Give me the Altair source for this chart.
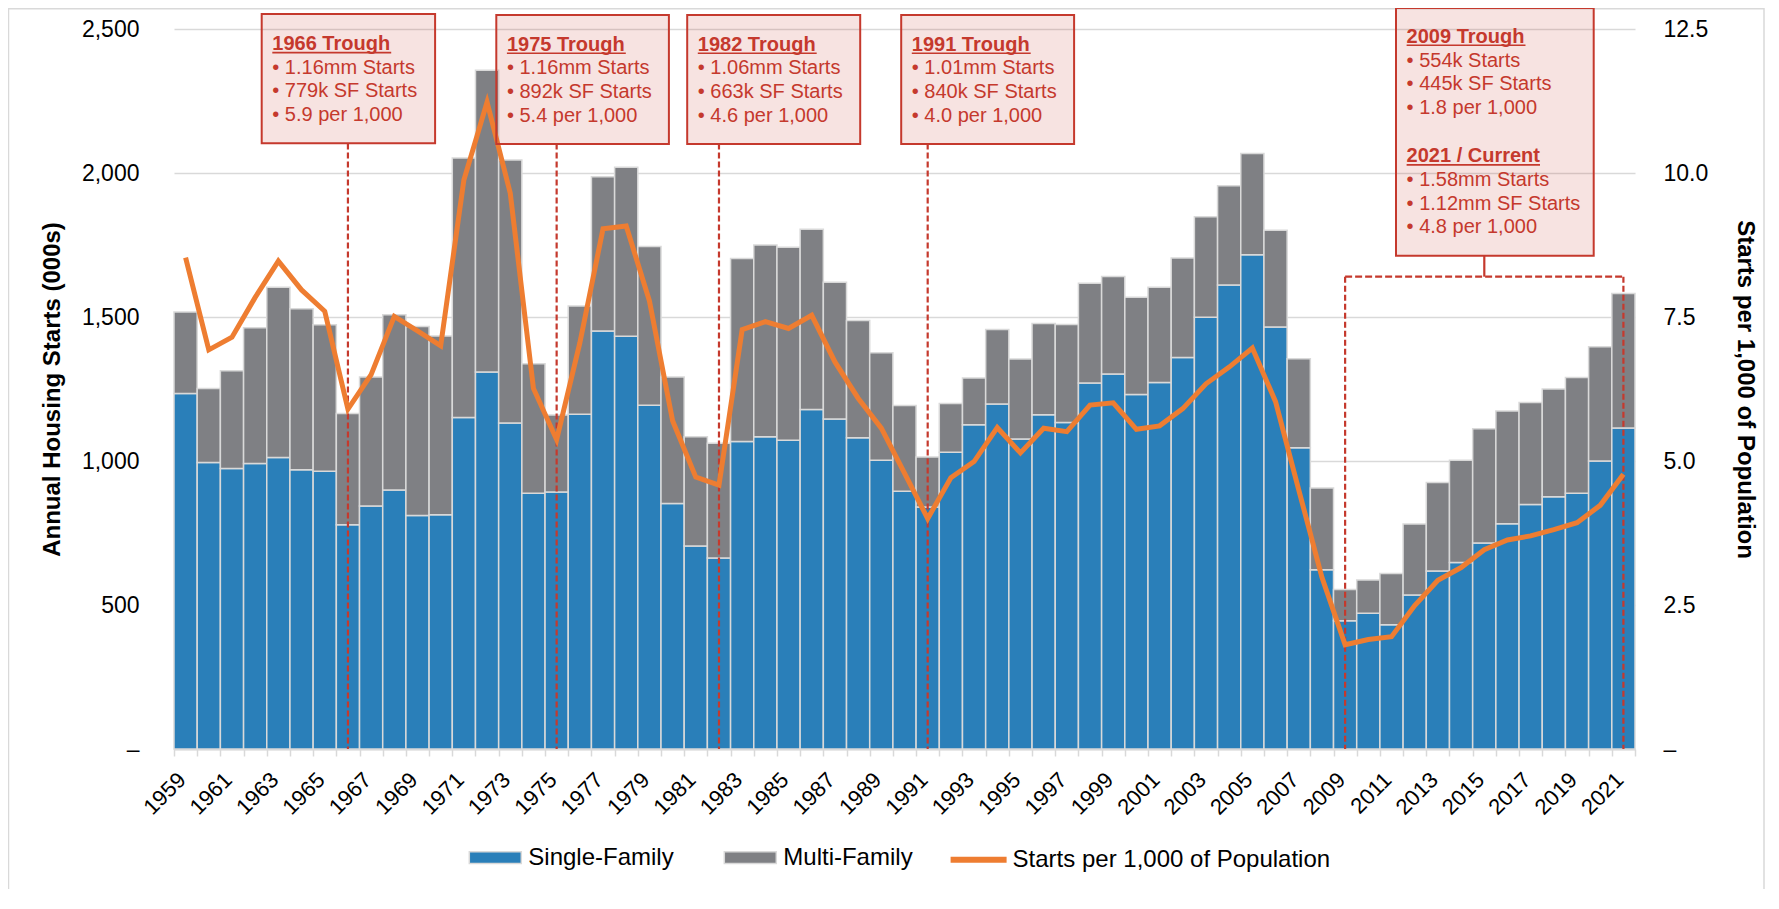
import altair as alt
import pandas as pd

# ---------------- data ----------------
years = list(range(1959, 2022))
total_starts = [1517, 1252, 1313, 1463, 1603, 1529, 1473, 1165, 1292, 1508,
                1467, 1434, 2052, 2357, 2045, 1338, 1160, 1538, 1987, 2020,
                1745, 1292, 1084, 1062, 1703, 1750, 1742, 1805, 1621, 1488,
                1376, 1193, 1014, 1200, 1288, 1457, 1354, 1477, 1474, 1617,
                1641, 1569, 1603, 1705, 1848, 1956, 2068, 1801, 1355, 906,
                554, 587, 609, 781, 925, 1003, 1112, 1174, 1203, 1250,
                1290, 1397, 1582]
sf_starts = [1234, 995, 974, 991, 1012, 970, 964, 779, 844, 899,
             811, 813, 1151, 1309, 1132, 888, 892, 1162, 1451, 1433,
             1194, 852, 705, 663, 1068, 1084, 1072, 1179, 1146, 1081,
             1003, 895, 840, 1030, 1126, 1198, 1076, 1161, 1134, 1271,
             1302, 1231, 1273, 1359, 1499, 1611, 1716, 1465, 1046, 622,
             445, 471, 431, 535, 618, 648, 715, 782, 849, 876,
             888, 1000, 1115]
per_1000 = [8.53, 6.93, 7.15, 7.84, 8.47, 7.97, 7.60, 5.90, 6.50, 7.51,
            7.26, 7.00, 9.88, 11.23, 9.65, 6.26, 5.37, 7.05, 9.03, 9.08,
            7.78, 5.70, 4.72, 4.58, 7.28, 7.42, 7.30, 7.53, 6.72, 6.09,
            5.57, 4.79, 4.00, 4.71, 4.99, 5.58, 5.14, 5.57, 5.51, 5.97,
            6.01, 5.55, 5.61, 5.91, 6.34, 6.63, 6.96, 6.03, 4.50, 2.98,
            1.81, 1.90, 1.95, 2.49, 2.93, 3.15, 3.46, 3.63, 3.70, 3.81,
            3.93, 4.23, 4.77]
series_names = ["Single-Family", "Multi-Family"]
line_name = "Starts per 1,000 of Population"
left_ticks = [0, 500, 1000, 1500, 2000, 2500]
right_ticks = [0, 2.5, 5, 7.5, 10, 12.5]
trough_years = [1966, 1975, 1982, 1991]
bracket_years = [2009, 2021]

annot_heads = ["1966 Trough", "1975 Trough", "1982 Trough", "1991 Trough",
               "2009 Trough", "2021 / Current"]
annot_lines = [
    ["\u2022 1.16mm Starts", "\u2022 779k SF Starts", "\u2022 5.9 per 1,000"],
    ["\u2022 1.16mm Starts", "\u2022 892k SF Starts", "\u2022 5.4 per 1,000"],
    ["\u2022 1.06mm Starts", "\u2022 663k SF Starts", "\u2022 4.6 per 1,000"],
    ["\u2022 1.01mm Starts", "\u2022 840k SF Starts", "\u2022 4.0 per 1,000"],
    ["\u2022 554k Starts", "\u2022 445k SF Starts", "\u2022 1.8 per 1,000"],
    ["\u2022 1.58mm Starts", "\u2022 1.12mm SF Starts", "\u2022 4.8 per 1,000"],
]

# ---------------- style / layout ----------------
FONT = "Liberation Sans"
BLUE = "#2A7FB9"
GRAY = "#7F8084"
ORANGE = "#EE7D31"
RED = "#C5392D"
LIGHT = "#D9D9D9"
W, H = 1461, 720

# annotation boxes (plot pixel coords): x0, y0, x1, y1
box_layout = [(87.7, -15, 261.1, 114.3), (322.3, -14, 494.9, 115),
              (513.2, -14, 686.2, 115), (727.2, -14, 900.1, 115),
              (1222, -21, 1419.7, 226.7)]
# header blocks: (box index, head baseline y, underline width)
head_layout = [(0, 21.0, 118.9), (1, 21.6, 118.9), (2, 21.6, 118.9),
               (3, 21.6, 118.9), (4, 13.7, 118.9), (4, 133.3, 133.4)]

# ---------------- tables ----------------
bar_rows = []
for yr, tot, sf in zip(years, total_starts, sf_starts):
    bar_rows.append({"year": yr, "series": series_names[0], "value": sf, "ord": 0})
    bar_rows.append({"year": yr, "series": series_names[1], "value": tot - sf, "ord": 1})
bar_df = pd.DataFrame(bar_rows)
line_df = pd.DataFrame({"year": years, "rate": per_1000, "name": line_name})
one = pd.DataFrame({"k": [0]})

x_axis = alt.Axis(
    title=None, labelExpr="datum.value % 2 == 1 ? datum.label : ''",
    labelAngle=-45, labelAlign="right", labelBaseline="middle",
    labelFontSize=22, labelFont=FONT, labelColor="black", labelPadding=20,
    labelOffset=-4,
    labelOverlap=False, tickBand="extent", tickSize=7, tickColor=LIGHT,
    tickWidth=1.5, domainColor=LIGHT, domainWidth=2, grid=False)
x_scale = alt.Scale(paddingInner=0, paddingOuter=0)


def xenc():
    return alt.X("year:O", scale=x_scale, axis=x_axis)


left_axis = alt.Axis(
    title="Annual Housing Starts (000s)", values=left_ticks,
    labelExpr="datum.value == 0 ? '\u2013' : format(datum.value, ',')",
    labelFontSize=23, labelFont=FONT, labelColor="black", labelPadding=35,
    ticks=False, domain=False, grid=True, gridColor=LIGHT, gridWidth=1.5,
    titleFont=FONT, titleFontSize=24, titleFontWeight="bold", titleColor="black",
    titleAngle=-90, titleBaseline="middle", titleAlign="center",
    titleX=-122, titleY=H / 2)

right_axis = alt.Axis(
    orient="right", title=line_name, values=right_ticks,
    labelExpr="datum.value == 0 ? '\u00a0\u2013' : format(datum.value, '.1f')",
    labelFontSize=23, labelFont=FONT, labelColor="black", labelPadding=28,
    ticks=False, domain=False, grid=False,
    titleFont=FONT, titleFontSize=24, titleFontWeight="bold", titleColor="black",
    titleAngle=90, titleBaseline="middle", titleAlign="center",
    titleX=109, titleY=H / 2)

bars = alt.Chart(bar_df).mark_bar(stroke=LIGHT, strokeWidth=1.5).encode(
    x=xenc(),
    y=alt.Y("value:Q", stack="zero",
            scale=alt.Scale(domain=[0, 2500], nice=False), axis=left_axis),
    color=alt.Color("series:N",
                    scale=alt.Scale(domain=series_names, range=[BLUE, GRAY]),
                    legend=alt.Legend(
                        title=None, orient="none", legendX=294.3, legendY=801.7,
                        direction="horizontal", symbolType="M-1,-0.225H1V0.225H-1Z",
                        symbolSize=2704, symbolStrokeColor=LIGHT, symbolStrokeWidth=1.5,
                        symbolOpacity=1, labelFontSize=24, labelFont=FONT,
                        labelColor="black", labelOffset=6, columnPadding=47,
                        padding=0, labelLimit=400)),
    order=alt.Order("ord:Q", sort="ascending"),
)

trough = alt.Chart(pd.DataFrame({"year": trough_years})).mark_rule(
    color=RED, strokeWidth=2.2, strokeDash=[6, 3]).encode(
    x=xenc(), y=alt.value(114.5), y2=alt.value(H))

bracket_v = alt.Chart(pd.DataFrame({"year": bracket_years})).mark_rule(
    color=RED, strokeWidth=2.2, strokeDash=[6, 3]).encode(
    x=xenc(), y=alt.value(247.7), y2=alt.value(H))
bracket_h = alt.Chart(pd.DataFrame({"year": bracket_years})).mark_line(
    color=RED, strokeWidth=2.2, strokeDash=[7, 3]).encode(
    x=xenc(), y=alt.value(247.7))
connector = alt.Chart(one).mark_rule(color=RED, strokeWidth=2.2).encode(
    x=alt.value(1310.3), y=alt.value(226.7), y2=alt.value(247.7))

line = alt.Chart(line_df).mark_line(strokeWidth=5, strokeJoin="miter").encode(
    x=xenc(),
    y=alt.Y("rate:Q", scale=alt.Scale(domain=[0, 12.5], nice=False), axis=right_axis),
    stroke=alt.Stroke("name:N", scale=alt.Scale(domain=[line_name], range=[ORANGE]),
                      legend=alt.Legend(
                          title=None, orient="none", legendX=773.6, legendY=799.7,
                          symbolType="stroke", symbolSize=3136, symbolStrokeWidth=6,
                          labelFontSize=24, labelFont=FONT, labelColor="black",
                          labelOffset=3, padding=0, labelLimit=500)),
)

frame = alt.Chart(one).mark_rect(fillOpacity=0, stroke=LIGHT, strokeWidth=1.5).encode(
    x=alt.value(-165.5), x2=alt.value(1590), y=alt.value(-20.2), y2=alt.value(900))

ann_layers = []
for (x0, y0, x1, y1) in box_layout:
    ann_layers.append(alt.Chart(one).mark_rect(
        fill=RED, fillOpacity=0.14, stroke=RED, strokeWidth=2).encode(
        x=alt.value(x0), x2=alt.value(x1), y=alt.value(y0), y2=alt.value(y1)))
for head, lines, (bi, hy, uw) in zip(annot_heads, annot_lines, head_layout):
    tx = box_layout[bi][0] + 10.6
    ann_layers.append(alt.Chart(one).mark_text(
        align="left", baseline="alphabetic", font=FONT, fontSize=20,
        fontWeight="bold", color=RED).encode(
        x=alt.value(tx), y=alt.value(hy), text=alt.value(head)))
    ann_layers.append(alt.Chart(one).mark_rule(color=RED, strokeWidth=1.6).encode(
        x=alt.value(tx), x2=alt.value(tx + uw), y=alt.value(hy + 2.6)))
    ann_layers.append(alt.Chart(one).mark_text(
        align="left", baseline="alphabetic", font=FONT, fontSize=20,
        lineHeight=23.6, color=RED).encode(
        x=alt.value(tx), y=alt.value(hy + 23.8), text=alt.value(lines)))

chart = alt.layer(
    frame, bars, trough, bracket_v, bracket_h, connector, line, *ann_layers
).resolve_scale(
    y="independent"
).properties(
    width=W, height=H,
    padding={"left": 166, "top": 21, "right": 130, "bottom": 140},
    autosize=alt.AutoSizeParams(type="none"),
).configure_view(stroke=None)

chart.save("out.html", embed_options={"renderer": "svg", "actions": False})
